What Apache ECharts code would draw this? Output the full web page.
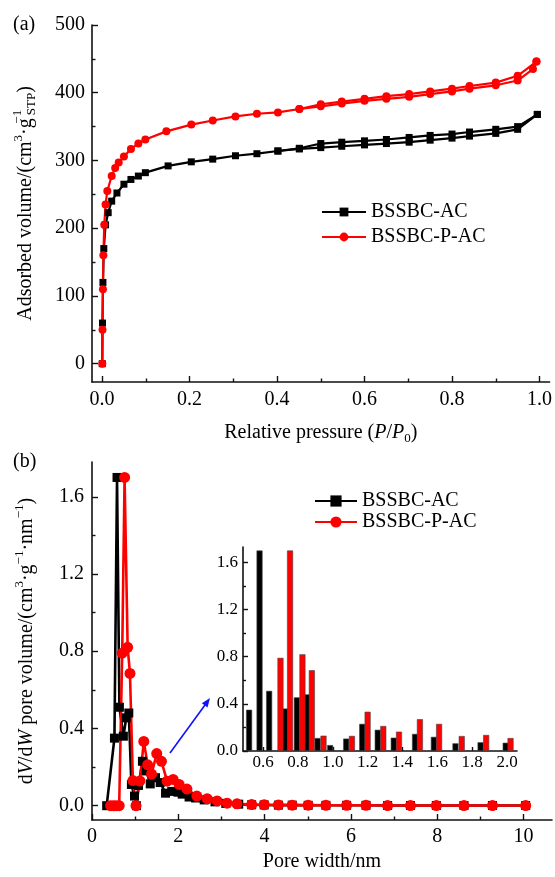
<!DOCTYPE html>
<html>
<head>
<meta charset="utf-8">
<script src="https://cdn.jsdelivr.net/npm/echarts@6/dist/echarts.min.js"></script>
<style>
html, body { margin: 0; padding: 0; background: #fff; }
#chart { width: 555px; height: 877px; }
</style>
</head>
<body>
<div id="chart"></div>
<script>
// (a) N2 adsorption / desorption isotherms
var acAdsP = [0.0005, 0.001, 0.002, 0.004, 0.008, 0.014, 0.022, 0.034, 0.05, 0.066, 0.083, 0.099, 0.151, 0.204, 0.253, 0.305, 0.354, 0.402, 0.451, 0.5, 0.548, 0.6, 0.65, 0.702, 0.75, 0.8, 0.84, 0.9, 0.95, 0.995];
var acAdsV = [0, 60, 120, 170, 205, 223, 240, 252, 265, 272, 277, 282, 292, 298, 302, 307, 310, 314, 317, 319, 321, 323, 325, 327, 330, 333, 336, 340, 346, 368];
var acDesP = [0.995, 0.95, 0.9, 0.84, 0.8, 0.75, 0.702, 0.65, 0.6, 0.548, 0.5, 0.451, 0.402];
var acDesV = [368, 350, 346, 342, 339, 337, 334, 331, 329, 327, 325, 318, 314];

var pacAdsP = [0.0005, 0.001, 0.002, 0.003, 0.005, 0.008, 0.012, 0.022, 0.03, 0.038, 0.05, 0.066, 0.083, 0.099, 0.147, 0.204, 0.253, 0.305, 0.354, 0.402, 0.451, 0.5, 0.548, 0.6, 0.65, 0.702, 0.75, 0.8, 0.84, 0.9, 0.95, 0.985, 0.993];
var pacAdsV = [0, 50, 110, 160, 205, 235, 255, 277, 289, 297, 306, 317, 325, 331, 343, 353, 359, 365, 369, 371, 376, 380, 384, 388, 391, 394, 398, 402, 406, 411, 418, 435, 446];
var pacDesP = [0.993, 0.95, 0.9, 0.84, 0.8, 0.75, 0.702, 0.65, 0.6, 0.548, 0.5, 0.451];
var pacDesV = [446, 425, 415, 410, 406, 402, 398, 395, 391, 387, 383, 376];

// (b) pore size distribution
var acW = [0.34, 0.52, 0.58, 0.635, 0.727, 0.794, 0.853, 0.913, 0.985, 1.03, 1.077, 1.169, 1.258, 1.35, 1.472, 1.58, 1.704, 1.848, 1.992, 2.09, 2.25, 2.4, 2.6, 2.85, 3.1, 3.4, 3.7, 3.99, 4.32, 4.64, 5.01, 5.42, 5.9, 6.35, 6.85, 7.38, 7.98, 8.62, 9.28, 10.05];
var acV = [0, 0.35, 1.70, 0.51, 0.36, 0.455, 0.48, 0.11, 0.05, 0, 0.105, 0.23, 0.18, 0.113, 0.145, 0.12, 0.065, 0.074, 0.07, 0.06, 0.045, 0.04, 0.03, 0.02, 0.012, 0.008, 0.005, 0.004, 0.003, 0.003, 0.002, 0.002, 0.002, 0.002, 0.001, 0.001, 0.001, 0.001, 0.001, 0.001];
var pacW = [0.43, 0.50, 0.56, 0.63, 0.70, 0.755, 0.826, 0.88, 0.947, 1.02, 1.11, 1.20, 1.29, 1.38, 1.50, 1.61, 1.74, 1.88, 2.02, 2.2, 2.43, 2.67, 2.9, 3.13, 3.36, 3.7, 3.99, 4.32, 4.64, 5.01, 5.42, 5.9, 6.35, 6.85, 7.38, 7.98, 8.62, 9.28, 10.05];
var pacV = [0, 0, 0, 0, 0.79, 1.70, 0.82, 0.685, 0.13, 0, 0.128, 0.333, 0.212, 0.164, 0.27, 0.23, 0.127, 0.136, 0.11, 0.086, 0.05, 0.036, 0.025, 0.013, 0.01, 0.006, 0.005, 0.004, 0.003, 0.003, 0.002, 0.002, 0.002, 0.001, 0.001, 0.001, 0.001, 0.001, 0.001];

// tick labels
var aXTicks = [0, 0.2, 0.4, 0.6, 0.8, 1.0];
var aXMinor = [0.1, 0.3, 0.5, 0.7, 0.9];
var aYTicks = [0, 100, 200, 300, 400, 500];
var aYMinor = [50, 150, 250, 350, 450];
var bXTicks = [0, 2, 4, 6, 8, 10];
var bXMinor = [1, 3, 5, 7, 9];
var bYTicks = [0, 0.4, 0.8, 1.2, 1.6];
var bYMinor = [0.2, 0.6, 1.0, 1.4];
var inXTicks = [0.6, 0.8, 1.0, 1.2, 1.4, 1.6, 1.8, 2.0];
var inYTicks = [0, 0.4, 0.8, 1.2, 1.6];
var inYMinor = [0.2, 0.6, 1.0, 1.4];

var FONT = 'Liberation Serif';
var INK = '#111';

function zip(xs, ys) {
    return xs.map(function (x, i) { return [x, ys[i]]; });
}
function insetData(xs, ys) {
    return zip(xs, ys).filter(function (d) { return d[0] > 0.485 && d[0] < 2.057 && d[1] > 0; });
}

function axis(kind, grid, min, max, ticks, fmt, opt) {
    opt = opt || {};
    return {
        type: 'value', gridIndex: grid, min: min, max: max,
        position: kind === 'x' ? 'bottom' : 'left',
        splitLine: { show: false },
        axisLine: { show: !opt.minor, onZero: false, lineStyle: { color: INK, width: 1.6 } },
        axisTick: { show: true, inside: true, length: opt.len || 6, customValues: ticks, lineStyle: { color: INK, width: 1.4 } },
        axisLabel: opt.minor ? { show: false } : {
            show: true, customValues: ticks, margin: opt.margin || 7, formatter: fmt,
            fontFamily: FONT, fontSize: opt.fs || 20, color: '#000'
        }
    };
}
var f1 = function (v) { return v.toFixed(1); };
var f0 = function (v) { return v.toFixed(0); };

var n = { fontFamily: FONT, fontSize: 20, color: '#000' };
var it = { fontFamily: FONT, fontSize: 20, color: '#000', fontStyle: 'italic' };
var sup = { fontFamily: FONT, fontSize: 13, color: '#000', padding: [0, 0, 14, 0] };
var supw = { fontFamily: FONT, fontSize: 13, color: '#000', padding: [0, 0, 16, 0], width: 3 };
var sub = { fontFamily: FONT, fontSize: 13, color: '#000', padding: [12, 0, 0, 0] };
var rich = { n: n, i: it, sup: sup, supw: supw, sub: sub };

var xAxes = [
    axis('x', 0, -0.023, 1.023, aXTicks, f1, { margin: 8 }),
    axis('x', 0, -0.023, 1.023, aXMinor, null, { minor: true, len: 3.5 }),
    axis('x', 1, 0, 10.66, bXTicks, f0, { margin: 7 }),
    axis('x', 1, 0, 10.66, bXMinor, null, { minor: true, len: 3.5 }),
    axis('x', 2, 0.485, 2.057, inXTicks, f1, { margin: 3, fs: 17, len: 4 })
];
xAxes[0].name = '{n|Relative pressure (}{i|P}{n|/}{i|P}{sub|0}{n|)}';
xAxes[0].nameLocation = 'middle';
xAxes[0].nameGap = 38;
xAxes[0].nameTextStyle = { rich: rich };
xAxes[2].name = 'Pore width/nm';
xAxes[2].nameLocation = 'middle';
xAxes[2].nameGap = 32;
xAxes[2].nameTextStyle = n;

var yAxes = [
    axis('y', 0, -27, 500, aYTicks, f0, { margin: 7 }),
    axis('y', 0, -27, 500, aYMinor, null, { minor: true, len: 3.5 }),
    axis('y', 1, -0.074, 1.78, bYTicks, f1, { margin: 8 }),
    axis('y', 1, -0.074, 1.78, bYMinor, null, { minor: true, len: 3.5 }),
    axis('y', 2, 0, 1.73, inYTicks, f1, { margin: 5, fs: 17, len: 5 }),
    axis('y', 2, 0, 1.73, inYMinor, null, { minor: true, len: 3 })
];
yAxes[0].name = '{n|Adsorbed volume/(cm}{sup|3}{n|·g}{supw|−1}{sub|STP}{n|)}';
yAxes[0].nameLocation = 'middle';
yAxes[0].nameRotate = 90;
yAxes[0].nameGap = 52;
yAxes[0].nameTextStyle = { rich: rich };
yAxes[2].name = '{n|d}{i|V}{n|/d}{i|W}{n| pore volume/(cm}{sup|3}{n|·g}{sup|−1}{n|·nm}{sup|−1}{n|)}';
yAxes[2].nameLocation = 'middle';
yAxes[2].nameRotate = 90;
yAxes[2].nameGap = 52;
yAxes[2].nameTextStyle = { rich: rich };

function lineSeries(name, grid, data, color, symbol, size, width) {
    return {
        type: 'line', name: name, xAxisIndex: grid === 0 ? 0 : 2, yAxisIndex: grid === 0 ? 0 : 2,
        data: data, symbol: symbol, symbolSize: size, showSymbol: true,
        lineStyle: { color: color, width: width },
        itemStyle: { color: color, borderWidth: 0 },
        emphasis: { disabled: true }
    };
}
function barSeries(name, data, color) {
    return {
        type: 'bar', name: name, xAxisIndex: 4, yAxisIndex: 4, data: data,
        barWidth: 6, barGap: '-100%',
        itemStyle: { color: color, borderColor: '#444', borderWidth: 0.6 }
    };
}

var BLACK = '#000000';
var RED = '#ff0000';

var option = {
    animation: false,
    backgroundColor: '#fff',
    grid: [
        { left: 92, top: 25, width: 460, height: 357 },
        { left: 92, top: 462, width: 460, height: 358 },
        { left: 243, top: 547, width: 274, height: 204 }
    ],
    xAxis: xAxes,
    yAxis: yAxes,
    legend: [
        {
            data: ['BSSBC-AC', 'BSSBC-P-AC'], orient: 'vertical', left: 321, top: 202, padding: 0,
            itemWidth: 44, itemHeight: 11, itemGap: 5, selectedMode: false,
            textStyle: { fontFamily: FONT, fontSize: 20, color: '#000' }
        },
        {
            data: ['b:BSSBC-AC', 'b:BSSBC-P-AC'], orient: 'vertical', left: 314, top: 491, padding: 0,
            itemWidth: 42, itemHeight: 14, itemGap: 1, selectedMode: false,
            formatter: function (name) { return name.slice(2); },
            textStyle: { fontFamily: FONT, fontSize: 20, color: '#000' }
        }
    ],
    graphic: [
        { type: 'text', left: 13, top: 15, style: { text: '(a)', fontFamily: FONT, fontSize: 20, fill: '#000' } },
        { type: 'text', left: 13, top: 452, style: { text: '(b)', fontFamily: FONT, fontSize: 20, fill: '#000' } },
        { type: 'line', shape: { x1: 170, y1: 753, x2: 205, y2: 705 }, style: { stroke: '#1010ff', lineWidth: 1.6 } },
        { type: 'polygon', shape: { points: [[210, 698], [207.5, 707.4], [201.9, 703.2]] }, style: { fill: '#1010ff' } }
    ],
    series: [
        lineSeries('BSSBC-AC', 0, zip(acAdsP, acAdsV), BLACK, 'rect', 7, 2.2),
        lineSeries('BSSBC-AC', 0, zip(acDesP, acDesV), BLACK, 'rect', 7, 2.2),
        lineSeries('BSSBC-P-AC', 0, zip(pacAdsP, pacAdsV), RED, 'circle', 8, 2.2),
        lineSeries('BSSBC-P-AC', 0, zip(pacDesP, pacDesV), RED, 'circle', 8, 2.2),
        lineSeries('b:BSSBC-AC', 1, zip(acW, acV), BLACK, 'rect', 9, 2.6),
        lineSeries('b:BSSBC-P-AC', 1, zip(pacW, pacV), RED, 'circle', 11, 2.6),
        barSeries('inset AC', insetData(acW, acV), BLACK),
        barSeries('inset P-AC', insetData(pacW, pacV), RED)
    ]
};

var chart = echarts.init(document.getElementById('chart'), null, { renderer: 'canvas' });
chart.setOption(option);
</script>
</body>
</html>
